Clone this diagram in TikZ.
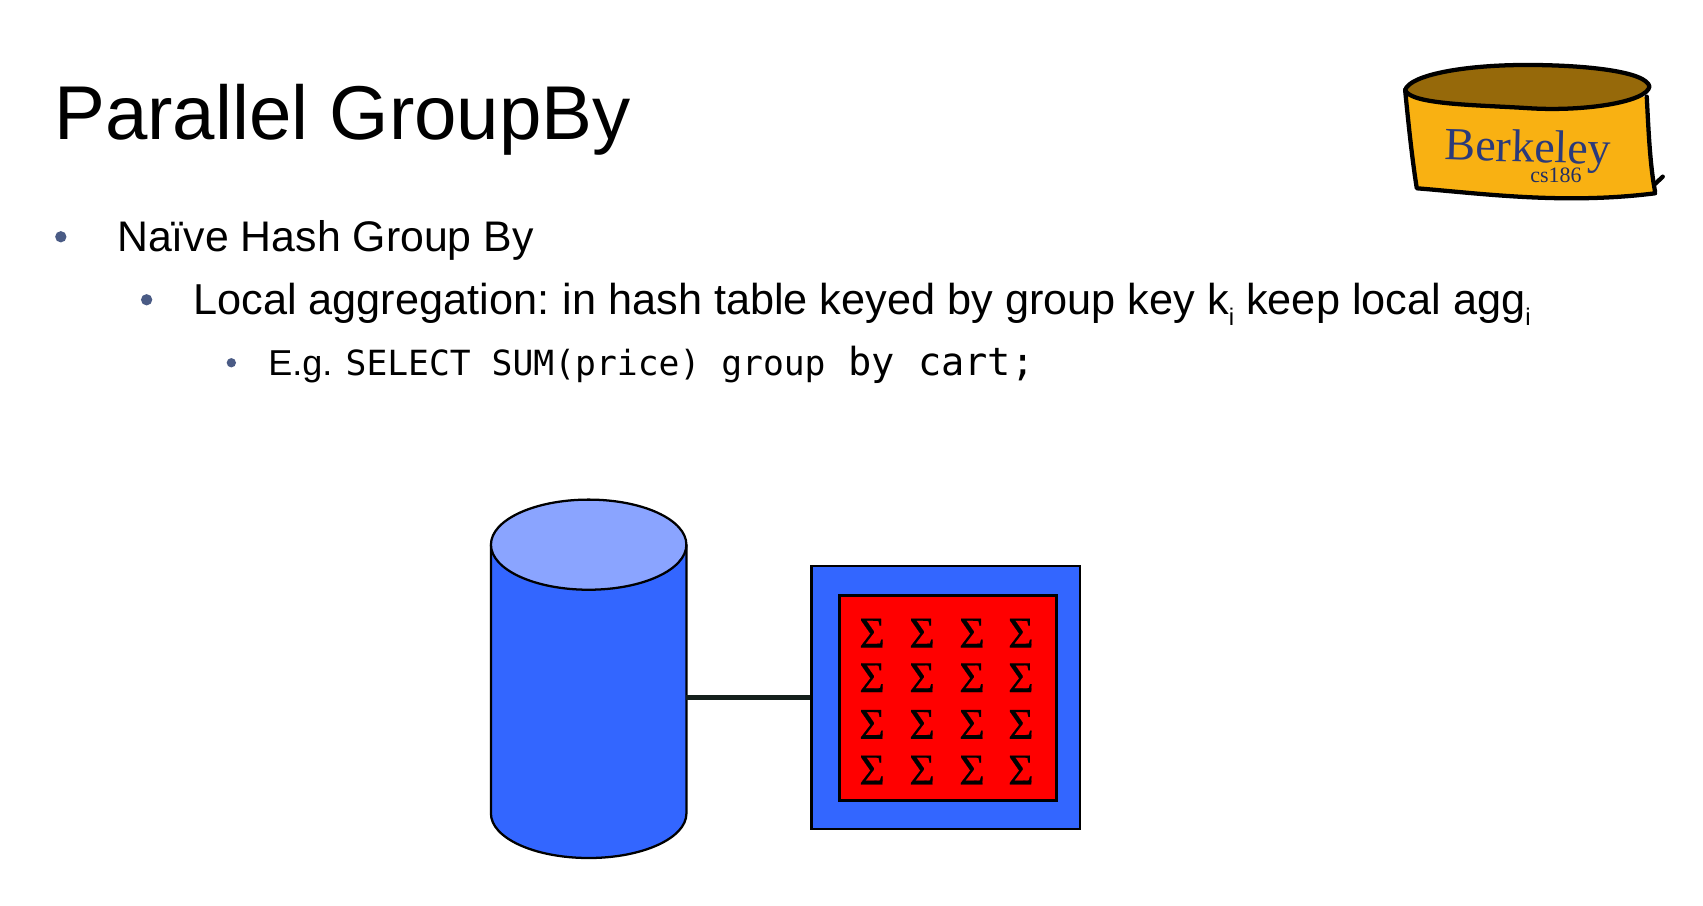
\documentclass[tikz,border=0pt]{standalone}
\usepackage{tikz}
\usetikzlibrary{shapes.geometric}
\usepackage{fontspec}
\setmainfont{Liberation Sans}
\newfontfamily\codefont{DejaVu Sans Mono}
\newfontfamily\serifgreek{Liberation Serif}
\newfontfamily\sigmafont[FakeBold=0.3]{Liberation Serif}
\definecolor{dbblue}{HTML}{3366FF}
\definecolor{dblight}{HTML}{8AA4FF}
\definecolor{bulletblue}{HTML}{4A5B85}
\definecolor{logogold}{HTML}{F9B112}
\definecolor{logodark}{HTML}{96690A}
\definecolor{logonavy}{HTML}{2B3A7A}
\definecolor{linkdark}{HTML}{14201C}
\tikzset{
  txt/.style={anchor=base west,inner sep=0pt,outer sep=0pt,text=black},
  bulletdot/.style={circle,fill=bulletblue,draw=none,inner sep=0pt},
  outline/.style={draw=black,line width=1.7pt},
  sigmacell/.style={inner sep=0pt,text=black,font=\sigmafont\fontsize{33}{33}\selectfont},
  logoline/.style={draw=black,line width=3.2pt,line join=round,line cap=round}
}
\newcommand{\subi}{\raisebox{-0.25em}{\fontsize{18}{18}\selectfont i}}
\begin{document}
\begin{tikzpicture}[x=0.8146pt,y=-0.8146pt]
\useasboundingbox[fill=white] (0,0) rectangle (1568,834);
% title and bullets
\node[txt,font=\fontsize{57.2}{57.2}\selectfont] (title) at (50,128.5) {Parallel GroupBy};
\node[bulletdot,minimum size=8.5pt] (b1) at (56,218) {};
\node[txt,font=\fontsize{32.1}{32.1}\selectfont] (l1) at (108,232) {Naïve Hash Group By};
\node[bulletdot,minimum size=8.5pt] (b2) at (135,276) {};
\node[txt,font=\fontsize{32.45}{32.45}\selectfont] (l2) at (178,290) {Local aggregation:\hspace{-2pt} in hash table keyed by group key k\subi{} keep local agg\subi\hspace{0pt}};
\node[bulletdot,minimum size=7pt] (b3) at (213,334) {};
\node[txt,font=\fontsize{27}{27}\selectfont] (l3) at (247,346) {E.g. {\codefont\fontsize{26}{26}\selectfont SELECT SUM(price) group}\hspace{9.5pt} {\codefont\fontsize{29}{29}\selectfont by cart;}};
% cylinder
\fill[dbblue] (452,501.5) -- (452,749) arc[start angle=180,end angle=0,x radius=90,y radius=41] -- (632,501.5) -- cycle;
\draw[outline] (452,501.5) -- (452,749) arc[start angle=180,end angle=0,x radius=90,y radius=41] -- (632,501.5);
\node[ellipse,outline,fill=dblight,inner sep=0pt,minimum width=146.6pt,minimum height=67.6pt] (dbtop) at (542,501.5) {};
\coordinate (dbside) at (632,600);
% box
\node[draw=black,line width=1.7pt,fill=dbblue,anchor=north west,inner sep=0pt,minimum width=201.4pt,minimum height=197.6pt] (box) at (746,520) {};
\node[draw=black,line width=2pt,fill=red,anchor=north west,inner sep=0pt,minimum width=162.4pt,minimum height=154pt] (inner) at (772,547) {};
\draw[linkdark,line width=4pt] (dbside |- box.west) -- (box.west);
% sigma grid
\foreach \r/\yy in {1/583,2/624,3/667,4/709}{
  \foreach \c/\xx in {1/803,2/849,3/895,4/940}{
    \node[sigmacell] (s\r\c) at (\xx,\yy) {Σ};
  }
}
% logo
\begin{scope}[shift={(1270.7,36.8)},x=0.25pt,y=-0.25pt]
  \fill[logogold] (75,150) .. controls (85,250) and (95,350) .. (110,445)
     .. controls (300,460) and (550,495) .. (825,460)
     .. controls (810,380) and (805,270) .. (800,170) -- cycle;
  \draw[logoline] (75,150) .. controls (85,250) and (95,350) .. (110,445)
     .. controls (300,460) and (550,495) .. (825,460);
  \draw[logoline] (800,170) .. controls (805,270) and (810,380) .. (825,455);
  \draw[logoline] (825,432) -- (848,410);
  \draw[logoline,fill=logodark] (75,150)
     .. controls (90,105) and (250,75) .. (440,75)
     .. controls (620,75) and (800,95) .. (808,140)
     .. controls (800,185) and (620,215) .. (450,205)
     .. controls (300,195) and (90,195) .. (75,150) -- cycle;
  \node[inner sep=0pt,anchor=base west,text=logonavy,rotate=-1.5,font=\serifgreek\fontsize{34.5}{34.5}\selectfont] (logoname) at (193,360) {Berkeley};
  \node[inner sep=0pt,anchor=base west,text=logonavy!80!black,font=\serifgreek\fontsize{16.5}{16.5}\selectfont] (logosub) at (450,428) {cs186};
\end{scope}
\end{tikzpicture}
\end{document}
